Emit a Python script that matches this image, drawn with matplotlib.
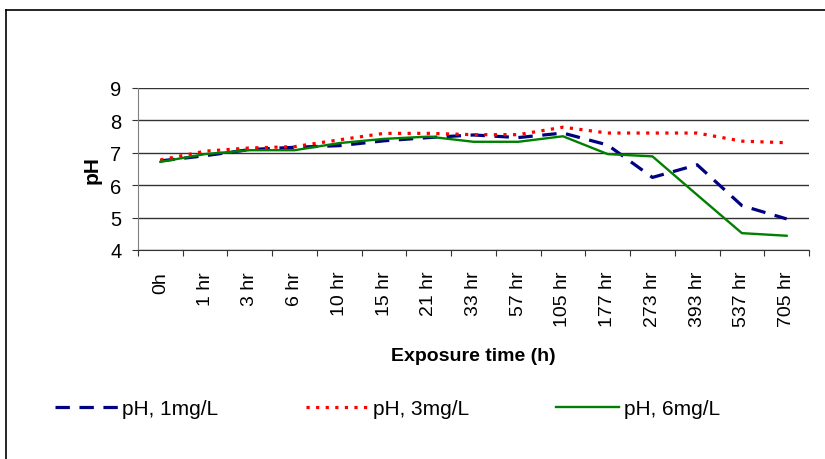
import matplotlib
matplotlib.use("Agg")
import matplotlib.pyplot as plt
from matplotlib.lines import Line2D

plt.rcParams['font.family'] = ['Liberation Sans', 'DejaVu Sans']

categories = ["0h", "1 hr", "3 hr", "6 hr", "10 hr", "15 hr", "21 hr", "33 hr",
              "57 hr", "105 hr", "177 hr", "273 hr", "393 hr", "537 hr", "705 hr"]
ph_1mg = [6.75, 6.91, 7.10, 7.17, 7.22, 7.37, 7.47, 7.55, 7.47, 7.61, 7.24, 6.24, 6.63, 5.37, 4.96]
ph_3mg = [6.78, 7.05, 7.15, 7.19, 7.40, 7.60, 7.60, 7.56, 7.56, 7.79, 7.61, 7.61, 7.61, 7.36, 7.31]
ph_6mg = [6.72, 6.96, 7.08, 7.08, 7.30, 7.43, 7.50, 7.34, 7.34, 7.51, 6.96, 6.89, 5.70, 4.52, 4.44]
labels = ["pH, 1mg/L", "pH, 3mg/L", "pH, 6mg/L"]

fig = plt.figure(figsize=(8.25, 4.6), dpi=100)
W, H = 825, 460
ax = fig.add_axes([138 / W, 1 - 251 / H, (809 - 138) / W, (251 - 89) / H])

x = list(range(len(categories)))
l1, = ax.plot(x, ph_1mg, color="#000080", lw=2.3, linestyle=(0, (4.5, 3)), label=labels[0])
l2, = ax.plot(x, ph_3mg, color="#FF0000", lw=2.3, linestyle=(0, (1, 2)), label=labels[1])
l3, = ax.plot(x, ph_6mg, color="#008000", lw=1.7, linestyle="-", label=labels[2])

ax.set_xlim(-0.5, len(categories) - 0.5)
ax.set_ylim(4, 9)
ax.set_yticks(range(4, 10))
ax.set_xticks([i - 0.5 for i in range(len(categories) + 1)], minor=False)
ax.set_xticklabels([""] * (len(categories) + 1))
ax.set_xticks(x, minor=True)
ax.set_xticklabels(categories, minor=True, rotation=90, fontsize=14)
ax.tick_params(axis="x", which="minor", length=0, pad=15)
ax.tick_params(axis="x", which="major", length=4, direction="out", color="#333333")
ax.tick_params(axis="y", length=4, direction="out", labelsize=14.5, pad=8, color="#333333")

for s in ["top", "right"]:
    ax.spines[s].set_visible(False)
ax.spines["left"].set_color("#808080")
ax.spines["bottom"].set_color("#333333")
ax.yaxis.grid(True, color="#333333", lw=1.0)
ax.set_axisbelow(True)

ax.set_ylabel("pH", fontsize=15, fontweight="bold", labelpad=6)
ax.set_xlabel("Exposure time (h)", fontsize=14, fontweight="bold", labelpad=15)

fig.legend(handles=[l1, l2, l3], loc="center left", bbox_to_anchor=(55 / W, 1 - 410 / H),
           ncol=3, frameon=False, fontsize=15, handlelength=3.0, handletextpad=0.24,
           columnspacing=4.18, borderaxespad=0, borderpad=0)

# outer frame (partially cut)
fig.add_artist(Line2D([6 / W, 6 / W], [0, 1 - 11 / H], transform=fig.transFigure, color="black", lw=1.2))
fig.add_artist(Line2D([6 / W, 1], [1 - 11 / H, 1 - 11 / H], transform=fig.transFigure, color="black", lw=1.2))

fig.savefig("out.png", dpi=100)
